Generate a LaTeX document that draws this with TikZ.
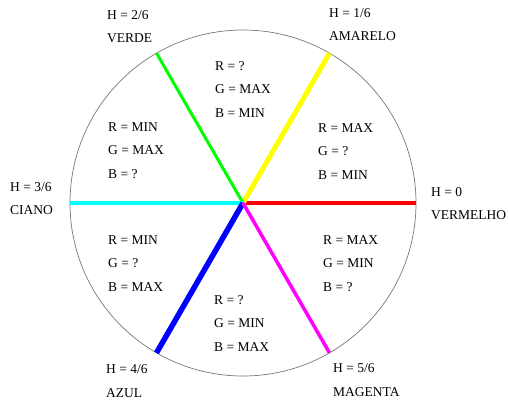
\documentclass[tikz,border=0pt]{standalone}
\usepackage{fontspec}
\setmainfont{Liberation Serif}
\definecolor{hred}{RGB}{255,0,0}
\definecolor{hyellow}{RGB}{255,255,0}
\definecolor{hgreen}{RGB}{0,255,0}
\definecolor{hcyan}{RGB}{0,255,255}
\definecolor{hblue}{RGB}{0,0,255}
\definecolor{hmagenta}{RGB}{255,0,255}
\definecolor{rim}{RGB}{120,120,120}
\begin{document}
\begin{tikzpicture}[x=1pt,y=-1pt,
  lbl/.style={anchor=west,align=left,inner sep=0pt,font=\fontsize{13.5}{23.3}\selectfont},
  spoke/.style={line cap=butt}]
\useasboundingbox (0,0) rectangle (508,400);
\node[draw=rim,line width=0.7pt,circle,minimum size=346pt,inner sep=0pt,outer sep=0pt] (wheel) at (243,203) {};
\draw[spoke,hred,line width=4pt] (wheel.center) -- (wheel.0);
\draw[spoke,hyellow,line width=5pt] (wheel.center) -- (wheel.60);
\draw[spoke,hgreen,line width=3pt] (wheel.center) -- (wheel.120);
\draw[spoke,hcyan,line width=4pt] (wheel.center) -- (wheel.180);
\draw[spoke,hblue,line width=5.5pt] (wheel.center) -- (wheel.240);
\draw[spoke,hmagenta,line width=3.5pt] (wheel.center) -- (wheel.300);
% sector texts
\node[lbl] (s1) at (215,89.5) {R = ?\\G = MAX\\B = MIN};
\node[lbl] (s2) at (318,151.5) {R = MAX\\G = ?\\B = MIN};
\node[lbl] (s3) at (108,150.5) {R = MIN\\G = MAX\\B = ?};
\node[lbl] (s4) at (108,263.5) {R = MIN\\G = ?\\B = MAX};
\node[lbl] (s5) at (323,263.5) {R = MAX\\G = MIN\\B = ?};
\node[lbl] (s6) at (214,323.5) {R = ?\\G = MIN\\B = MAX};
% hue labels
\node[lbl] (h0) at (431,203.5) {H = 0\\VERMELHO};
\node[lbl] (h1) at (329,24.5) {H = 1/6\\AMARELO};
\node[lbl] (h2) at (107,26.5) {H = 2/6\\VERDE};
\node[lbl] (h3) at (10,198.5) {H = 3/6\\CIANO};
\node[lbl] (h4) at (106,381) {H = 4/6\\AZUL};
\node[lbl] (h5) at (333,380) {H = 5/6\\MAGENTA};
\end{tikzpicture}
\end{document}
